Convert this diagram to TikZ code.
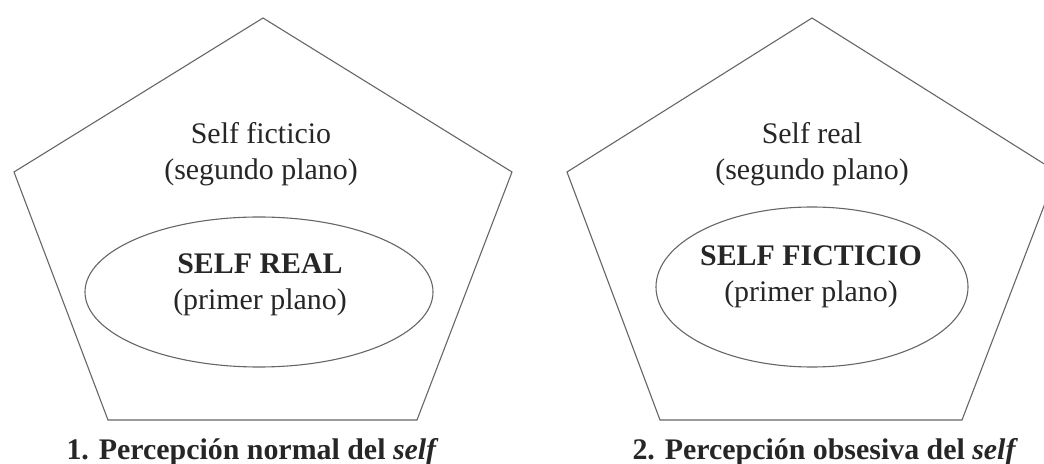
\documentclass[tikz,border=0pt]{standalone}
\usepackage{fontspec}
\setmainfont{Liberation Serif}
\usetikzlibrary{shapes.geometric}

\begin{document}
\begin{tikzpicture}[
  x=1bp, y=-1bp,
  outline/.style={draw=black!60, line width=1.1bp, line join=miter},
  core/.style={ellipse, draw=black!60, line width=1.1bp, inner sep=0pt},
  txt/.style={align=center, font=\fontsize{30}{36}\selectfont, text=black!85},
  caption/.style={anchor=base west, font=\fontsize{30}{36}\selectfont\bfseries, text=black!85},
]
  \useasboundingbox (0,0) rectangle (1044,464);
  \begin{scope}
    \clip (0,0) rectangle (1044,464);
    \draw[outline] (263,18) -- (512,172) -- (417,420) -- (108,420) -- (14,172) -- cycle;
    \draw[outline] (812,18) -- (1057,172) -- (962,420) -- (660,420) -- (567,172) -- cycle;
  \end{scope}

  \node[txt] (b1) at (261,154) {Self ficticio\\(segundo plano)};
  \node[core, minimum width=348bp, minimum height=150bp] (c1) at (259,292) {};
  \node[txt] (f1) at (260,285) {\textbf{SELF REAL}\\(primer plano)};
  \node[caption] (l1) at (63,459) {1. Percepción normal del \textit{self}};

  \node[txt] (b2) at (812,154) {Self real\\(segundo plano)};
  \node[core, minimum width=312bp, minimum height=160bp] (c2) at (812,287) {};
  \node[txt] (f2) at (811,277) {\textbf{SELF FICTICIO}\\(primer plano)};
  \node[caption] (l2) at (629,459) {2. Percepción obsesiva del \textit{self}};
\end{tikzpicture}
\end{document}
